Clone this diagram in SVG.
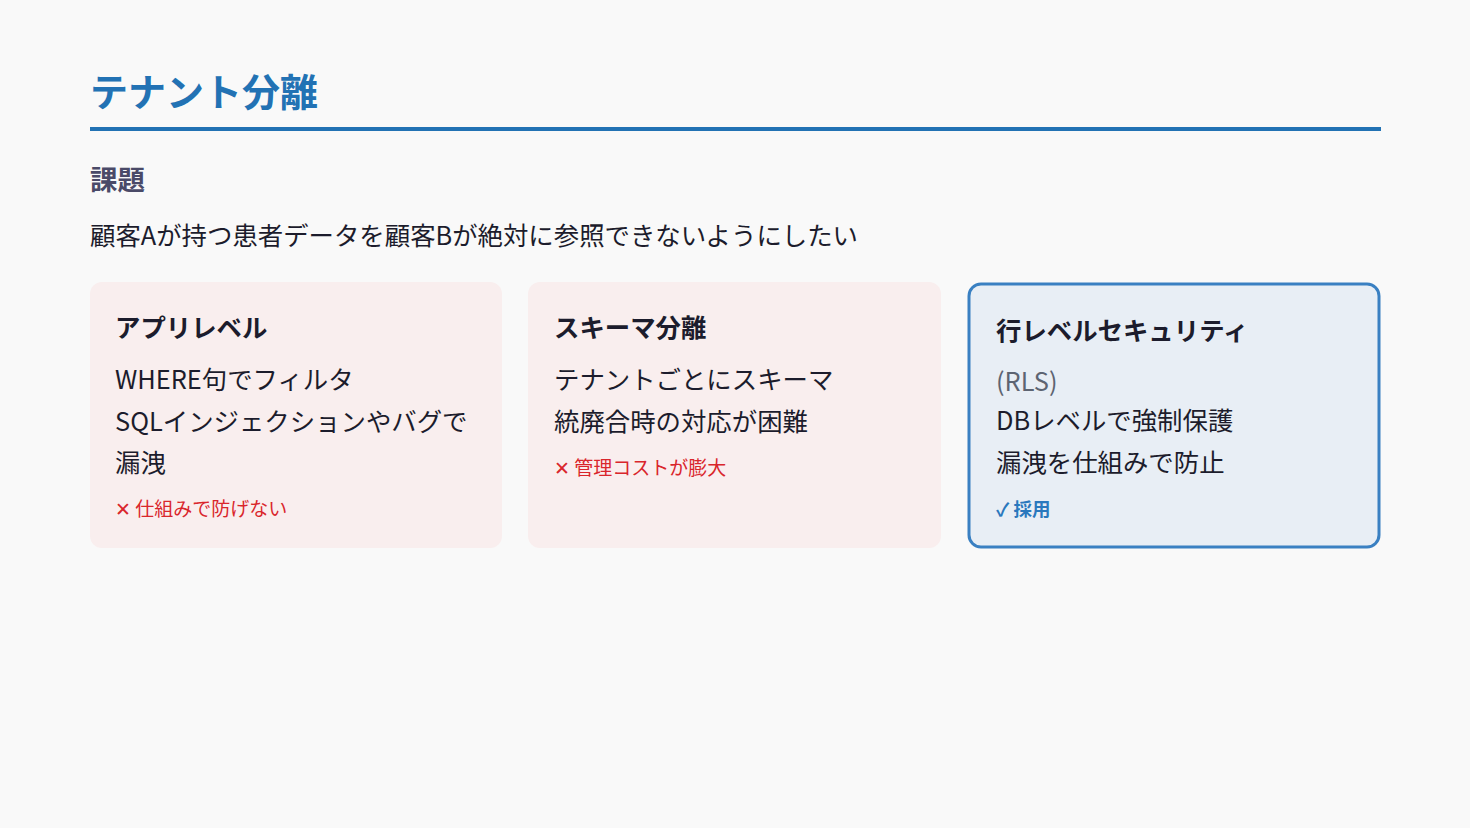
<svg xmlns="http://www.w3.org/2000/svg" width="1470" height="828" viewBox="0 0 1470 828">
<style>
text{font-family:"Noto Sans CJK JP","Noto Sans",sans-serif;}
.title{font-size:38px;font-weight:700;fill:#2272b4;}
.h2{font-size:27.5px;font-weight:700;fill:#4a4a68;}
.lead{font-size:25.4px;fill:#1c1c2c;}
.ch{font-size:25.4px;font-weight:700;fill:#1c1c2c;}
.cb{font-size:25.4px;fill:#1c1c2c;}
.muted{font-size:25.4px;fill:#5d6472;}
.bad{font-size:19px;fill:#d9262c;}
.good{font-size:18.5px;font-weight:700;fill:#2a78bd;}
.cardR{fill:#f9eeee;}
.cardB{fill:#e8eef5;stroke:#3a80c2;stroke-width:3;}
</style>
<rect width="1470" height="828" fill="#f9f9f9"/>
<g id="header">
<text class="title" x="90" y="106">テナント分離</text>
<rect x="90" y="127" width="1291" height="4" fill="#2272b4"/>
<text class="h2" x="90" y="190">課題</text>
<text class="lead" x="90" y="245">顧客Aが持つ患者データを顧客Bが絶対に参照できないようにしたい</text>
</g>
<g id="card-app">
<rect class="cardR" x="90" y="282" width="412" height="266" rx="12"/>
<text class="ch" x="115" y="337">アプリレベル</text>
<text class="cb" x="115" y="389">WHERE句でフィルタ</text>
<text class="cb" x="115" y="431">SQLインジェクションやバグで</text>
<text class="cb" x="115" y="472">漏洩</text>
<text class="bad" x="115" y="516">✕ 仕組みで防げない</text>
</g>
<g id="card-schema">
<rect class="cardR" x="528" y="282" width="413" height="266" rx="12"/>
<text class="ch" x="554" y="337">スキーマ分離</text>
<text class="cb" x="554" y="389">テナントごとにスキーマ</text>
<text class="cb" x="554" y="431">統廃合時の対応が困難</text>
<text class="bad" x="554" y="475">✕ 管理コストが膨大</text>
</g>
<g id="card-rls">
<rect class="cardB" x="969" y="284" width="410" height="263" rx="12"/>
<text class="ch" x="996" y="340">行レベルセキュリティ</text>
<text class="muted" x="996" y="391">(RLS)</text>
<text class="cb" x="996" y="430">DBレベルで強制保護</text>
<text class="cb" x="996" y="472">漏洩を仕組みで防止</text>
<text class="good" x="996" y="516">✓ 採用</text>
</g>
<g id="connectors"></g>
</svg>
